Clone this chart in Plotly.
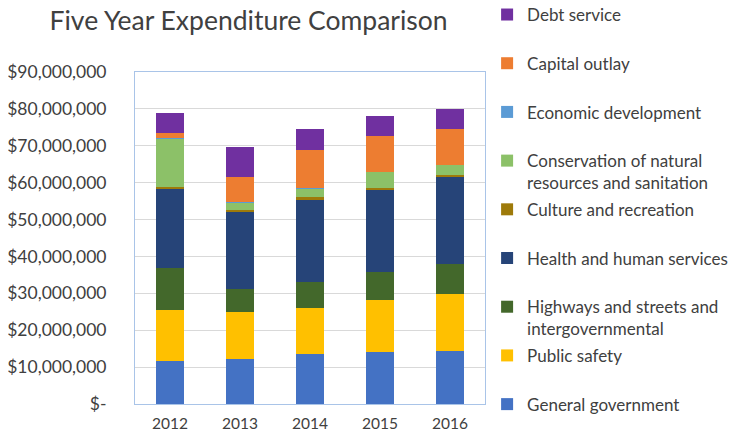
import plotly.graph_objects as go

years = ["2012", "2013", "2014", "2015", "2016"]

general_government = [11700000, 12200000, 13600000, 14000000, 14300000]
public_safety = [13800000, 12700000, 12500000, 14300000, 15600000]
highways = [11500000, 6400000, 6900000, 7500000, 8100000]
health = [21400000, 20900000, 22500000, 22300000, 23600000]
culture = [400000, 500000, 500000, 400000, 500000]
conservation = [13300000, 1900000, 2400000, 4400000, 2700000]
economic = [50000, 50000, 50000, 50000, 50000]
capital = [1300000, 6900000, 10300000, 9800000, 9700000]
debt = [5400000, 8100000, 5700000, 5400000, 5300000]

tick_vals = [0, 10000000, 20000000, 30000000, 40000000, 50000000, 60000000, 70000000, 80000000, 90000000]
tick_text = ["$-", "$10,000,000", "$20,000,000", "$30,000,000", "$40,000,000", "$50,000,000",
             "$60,000,000", "$70,000,000", "$80,000,000", "$90,000,000"]

series = [
    ("General government", general_government, "#4472C4"),
    ("Public safety", public_safety, "#FFC000"),
    ("Highways and streets and<br>intergovernmental", highways, "#43682B"),
    ("Health and human services", health, "#264478"),
    ("Culture and recreation", culture, "#9E7A0A"),
    ("Conservation of natural<br>resources and sanitation", conservation, "#8CC168"),
    ("Economic development", economic, "#5B9BD5"),
    ("Capital outlay", capital, "#ED7D31"),
    ("Debt service", debt, "#7030A0"),
]

fig = go.Figure()
n = len(series)
for i, (name, vals, color) in enumerate(series):
    if "<br>" in name or i == 0:
        label = name
    else:
        label = name + "<br> "
    fig.add_trace(go.Bar(
        x=years, y=vals, name=label, marker=dict(color=color, line=dict(width=0)),
        legendgroup="g%d" % i, legendrank=n - i,
    ))

fig.update_layout(
    barmode="stack",
    bargap=0.6,
    width=738, height=432,
    margin=dict(l=127, r=261, t=64, b=36, autoexpand=False),
    paper_bgcolor="white", plot_bgcolor="white",
    font=dict(family="Lato, 'Open Sans', sans-serif", color="#404040", size=15),
    title=dict(text="Five Year Expenditure Comparison", x=0.326, xanchor="center",
               y=0.97, yanchor="middle", font=dict(size=26.5, color="#404040")),
    legend=dict(
        x=1.006, xanchor="left", y=1.226, yanchor="top",
        bgcolor="rgba(0,0,0,0)", maxheight=460,
        traceorder="grouped", tracegroupgap=1.5, valign="top",
        font=dict(size=17, color="#404040"),
    ),
    xaxis=dict(showgrid=False, showline=True, linecolor="#a9c4e8", linewidth=1, mirror=True,
               ticks="", tickfont=dict(size=15.5), ticklabelstandoff=5, automargin=False),
    yaxis=dict(range=[0, 90000000], tickvals=tick_vals, ticktext=tick_text, showgrid=True,
               gridcolor="#d9d9d9", showline=True, linecolor="#a9c4e8", linewidth=1, mirror=True,
               ticks="", tickfont=dict(size=17.5), zeroline=False, ticklabelstandoff=24,
               automargin=False),
)

fig.write_html("out.html")
